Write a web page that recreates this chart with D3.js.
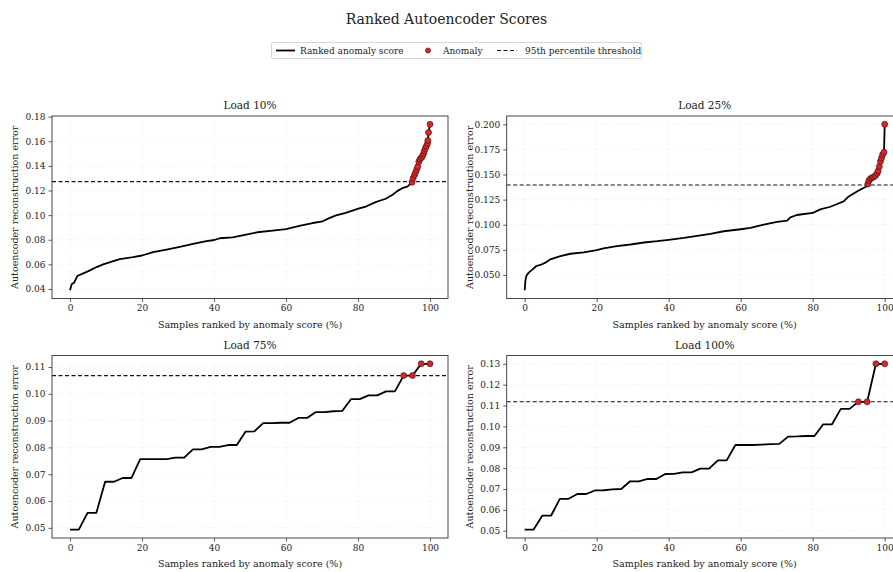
<!DOCTYPE html>
<html>
<head>
<meta charset="utf-8">
<script src="https://cdn.jsdelivr.net/npm/d3@7"></script>
<style>
  body { margin: 0; background: #fff; }
  text { font-family: "DejaVu Serif", serif; fill: #222; }
</style>
</head>
<body>
<div id="chart"></div>
<script>
// Panel titles and x ticks
const panelTitles = ["Load 10%", "Load 25%", "Load 75%", "Load 100%"];
const xTicks = [0, 20, 40, 60, 80, 100];

// Load 10% - dense ranked curve (rank %, error)
const load10Pct = [0, 0.46, 1.11, 2.03, 3.69, 5.54, 7.39, 9.23, 12.0, 13.85, 17.54, 20.0, 23.1, 26.8, 30.5,
  34.2, 37.9, 40.1, 41.6, 45.2, 48.9, 52.6, 56.3, 60.0, 63.7, 67.4, 70.2, 72.0, 73.9, 76.6, 80.1, 82.2,
  84.9, 87.7, 89.6, 91.0, 92.3, 93.7, 94.6];
const load10Err = [0.039, 0.0438, 0.045, 0.0505, 0.0527, 0.0551, 0.0578, 0.060, 0.0626, 0.0642, 0.0658,
  0.0672, 0.070, 0.072, 0.0742, 0.0766, 0.0788, 0.0798, 0.0812, 0.082, 0.0842, 0.0863, 0.0874, 0.0887,
  0.0912, 0.0936, 0.095, 0.0976, 0.0998, 0.1019, 0.1052, 0.107, 0.1106, 0.1133, 0.1165, 0.1197, 0.1219,
  0.1232, 0.1255];
const load10AnomPct = [95.0, 95.3, 95.7, 96.0, 96.3, 96.6, 96.9, 97.2, 97.6, 97.9, 98.2, 98.4, 98.7, 99.0,
  99.3, 99.4, 99.6, 100];
const load10AnomErr = [0.1267, 0.130, 0.1327, 0.1348, 0.137, 0.1394, 0.1434, 0.1453, 0.1466, 0.148,
  0.1498, 0.152, 0.1542, 0.156, 0.1582, 0.1606, 0.1671, 0.1738];
const load10Threshold = 0.1272;

// Load 25%
const load25Pct = [0, 0.19, 0.46, 1.11, 2.04, 3.24, 4.35, 5.74, 7.13, 9.91, 12.7, 16.4, 20.0, 21.9, 25.6,
  29.4, 33.1, 36.8, 40.0, 44.2, 47.9, 51.6, 55.3, 60.0, 62.7, 66.4, 70.1, 72.9, 73.8, 75.6, 80.0, 82.1,
  84.9, 86.8, 88.6, 90.0, 92.3, 93.7, 94.9];
const load25Err = [0.0348, 0.0441, 0.049, 0.0523, 0.055, 0.0589, 0.0599, 0.0622, 0.0655, 0.0688, 0.0711,
  0.0724, 0.0747, 0.0764, 0.0787, 0.0803, 0.0823, 0.0836, 0.085, 0.0869, 0.0889, 0.0909, 0.0935, 0.0955,
  0.0968, 0.1001, 0.1028, 0.1041, 0.1074, 0.1097, 0.1117, 0.1153, 0.1179, 0.1206, 0.1232, 0.1282,
  0.1331, 0.1358, 0.1381];
const load25AnomPct = [95.3, 95.6, 96.0, 96.5, 96.9, 97.4, 97.9, 98.2, 98.5, 98.8, 99.1, 99.4, 99.8, 100];
const load25AnomErr = [0.1405, 0.1438, 0.1458, 0.1468, 0.1475, 0.1488, 0.1511, 0.1537, 0.158, 0.163,
  0.1663, 0.1696, 0.1722, 0.200];
const load25Threshold = 0.1395;

// Load 75% - 42 ranked samples, evenly spaced ranks
const load75Err = [0.0493, 0.0493, 0.0556, 0.0556, 0.0672, 0.0672, 0.0686, 0.0686, 0.0756, 0.0756,
  0.0756, 0.0756, 0.0762, 0.0762, 0.0793, 0.0793, 0.0802, 0.0802, 0.0809, 0.0809, 0.0859, 0.0860,
  0.0891, 0.0891, 0.0892, 0.0892, 0.0910, 0.0910, 0.0932, 0.0932, 0.0935, 0.0936, 0.0980, 0.0980,
  0.0994, 0.0994, 0.1009, 0.1009, 0.1068, 0.1068, 0.1112, 0.1112];
const load75Threshold = 0.1068;

// Load 100% - 42 ranked samples
const load100Err = [0.0505, 0.0505, 0.0572, 0.0572, 0.0653, 0.0653, 0.0676, 0.0676, 0.0693, 0.0694,
  0.0698, 0.0700, 0.0737, 0.0737, 0.0748, 0.0748, 0.0772, 0.0773, 0.0780, 0.0780, 0.0798, 0.0798,
  0.0837, 0.0837, 0.0911, 0.0911, 0.0911, 0.0913, 0.0915, 0.0916, 0.0951, 0.0952, 0.0954, 0.0954,
  0.1010, 0.1010, 0.1084, 0.1084, 0.1118, 0.1118, 0.1300, 0.1300];
const load100Threshold = 0.1118;

// y tick labels per panel
const yTicks10 = [0.04, 0.06, 0.08, 0.10, 0.12, 0.14, 0.16, 0.18];
const yTicks25 = [0.050, 0.075, 0.100, 0.125, 0.150, 0.175, 0.200];
const yTicks75 = [0.05, 0.06, 0.07, 0.08, 0.09, 0.10, 0.11];
const yTicks100 = [0.05, 0.06, 0.07, 0.08, 0.09, 0.10, 0.11, 0.12, 0.13];

const width = 893;
const height = 572;
const plotW = 396;
const plotH = 182.5;
const red = "#d62728";

const svg = d3
  .select("#chart")
  .append("svg")
  .attr("width", width)
  .attr("height", height)
  .style("background", "#fff");

// turn pct/err arrays into point objects
function toPoints(pcts, errs) {
  return pcts.map((p, i) => ({ x: p, y: errs[i] }));
}
function evenPoints(errs) {
  return errs.map((e, i) => ({ x: (i / (errs.length - 1)) * 100, y: e }));
}

const panels = [
  {
    title: panelTitles[0], left: 52, top: 116,
    line: toPoints(load10Pct, load10Err).concat(toPoints(load10AnomPct, load10AnomErr)),
    anomalies: toPoints(load10AnomPct, load10AnomErr),
    threshold: load10Threshold, yTicks: yTicks10, fmt: ".2f",
  },
  {
    title: panelTitles[1], left: 506.7, top: 116,
    line: toPoints(load25Pct, load25Err).concat(toPoints(load25AnomPct, load25AnomErr)),
    anomalies: toPoints(load25AnomPct, load25AnomErr),
    threshold: load25Threshold, yTicks: yTicks25, fmt: ".3f",
  },
  {
    title: panelTitles[2], left: 52, top: 355.5,
    line: evenPoints(load75Err),
    anomalies: evenPoints(load75Err).filter((d) => d.y >= load75Threshold),
    threshold: load75Threshold, yTicks: yTicks75, fmt: ".2f",
  },
  {
    title: panelTitles[3], left: 506.7, top: 355.5,
    line: evenPoints(load100Err),
    anomalies: evenPoints(load100Err).filter((d) => d.y >= load100Threshold),
    threshold: load100Threshold, yTicks: yTicks100, fmt: ".2f",
  },
];

function drawPanel(p) {
  const g = svg.append("g");
  const x = d3.scaleLinear().domain([-5, 105]).range([p.left, p.left + plotW]);
  const lo = d3.min(p.line, (d) => d.y);
  const hi = d3.max(p.line, (d) => d.y);
  const pad = (hi - lo) * 0.05;
  const y = d3.scaleLinear().domain([lo - pad, hi + pad]).range([p.top + plotH, p.top]);

  // very faint grid
  g.selectAll(".gx")
    .data(xTicks)
    .join("line")
    .attr("x1", (d) => x(d))
    .attr("x2", (d) => x(d))
    .attr("y1", p.top)
    .attr("y2", p.top + plotH)
    .attr("stroke", "#ececec")
    .attr("stroke-width", 0.6)
    .attr("stroke-dasharray", "2.5,2");
  g.selectAll(".gy")
    .data(p.yTicks)
    .join("line")
    .attr("x1", p.left)
    .attr("x2", p.left + plotW)
    .attr("y1", (d) => y(d))
    .attr("y2", (d) => y(d))
    .attr("stroke", "#ececec")
    .attr("stroke-width", 0.6)
    .attr("stroke-dasharray", "2.5,2");

  // threshold
  g.append("line")
    .attr("x1", p.left)
    .attr("x2", p.left + plotW)
    .attr("y1", y(p.threshold))
    .attr("y2", y(p.threshold))
    .attr("stroke", "#111")
    .attr("stroke-width", 1.1)
    .attr("stroke-dasharray", "4,2.5");

  // ranked line
  const line = d3.line().x((d) => x(d.x)).y((d) => y(d.y));
  g.append("path")
    .datum(p.line)
    .attr("d", line)
    .attr("fill", "none")
    .attr("stroke", "#000")
    .attr("stroke-width", 1.8)
    .attr("stroke-linejoin", "round");

  // anomalies
  g.selectAll(".anom")
    .data(p.anomalies)
    .join("circle")
    .attr("cx", (d) => x(d.x))
    .attr("cy", (d) => y(d.y))
    .attr("r", 3)
    .attr("fill", red)
    .attr("stroke", "#3a0a0a")
    .attr("stroke-width", 0.6);

  // axes
  const xAxis = g
    .append("g")
    .attr("transform", `translate(0,${p.top + plotH})`)
    .call(d3.axisBottom(x).tickValues(xTicks).tickSize(3.5).tickPadding(3).tickFormat(d3.format("d")));
  const yAxis = g
    .append("g")
    .attr("transform", `translate(${p.left},0)`)
    .call(d3.axisLeft(y).tickValues(p.yTicks).tickSize(3.5).tickPadding(3).tickFormat(d3.format(p.fmt)));
  [xAxis, yAxis].forEach((a) => {
    a.select(".domain").remove();
    a.selectAll("line").attr("stroke", "#333").attr("stroke-width", 0.8);
    a.selectAll("text")
      .attr("font-family", '"DejaVu Serif", serif')
      .attr("font-size", 9)
      .attr("fill", "#333");
  });

  // frame
  g.append("rect")
    .attr("x", p.left)
    .attr("y", p.top)
    .attr("width", plotW)
    .attr("height", plotH)
    .attr("fill", "none")
    .attr("stroke", "#333")
    .attr("stroke-width", 0.9);

  // labels
  g.append("text")
    .attr("x", p.left + plotW / 2)
    .attr("y", p.top - 7)
    .attr("text-anchor", "middle")
    .attr("font-size", 10.5)
    .text(p.title);
  g.append("text")
    .attr("x", p.left + plotW / 2)
    .attr("y", p.top + plotH + 29)
    .attr("text-anchor", "middle")
    .attr("font-size", 9.5)
    .text("Samples ranked by anomaly score (%)");
  g.append("text")
    .attr("transform", `translate(${p.left - 34},${p.top + plotH / 2}) rotate(-90)`)
    .attr("text-anchor", "middle")
    .attr("font-size", 9.5)
    .text("Autoencoder reconstruction error");
}

panels.forEach(drawPanel);

// suptitle
svg.append("text")
  .attr("x", width / 2)
  .attr("y", 24)
  .attr("text-anchor", "middle")
  .attr("font-size", 14)
  .text("Ranked Autoencoder Scores");

// legend
const legend = svg.append("g");
legend.append("rect")
  .attr("x", 271.5).attr("y", 42.5)
  .attr("width", 370).attr("height", 16)
  .attr("fill", "#fff").attr("stroke", "#ccc").attr("stroke-width", 0.8).attr("rx", 1.5);
legend.append("line")
  .attr("x1", 276).attr("x2", 295).attr("y1", 50.5).attr("y2", 50.5)
  .attr("stroke", "#000").attr("stroke-width", 1.8);
legend.append("text").attr("x", 300).attr("y", 53.8).attr("font-size", 9).text("Ranked anomaly score");
legend.append("circle")
  .attr("cx", 428).attr("cy", 50.5).attr("r", 2.6)
  .attr("fill", red).attr("stroke", "#3a0a0a").attr("stroke-width", 0.5);
legend.append("text").attr("x", 443).attr("y", 53.8).attr("font-size", 9).text("Anomaly");
legend.append("line")
  .attr("x1", 497).attr("x2", 517).attr("y1", 50.5).attr("y2", 50.5)
  .attr("stroke", "#111").attr("stroke-width", 1.1).attr("stroke-dasharray", "4,2.5");
legend.append("text").attr("x", 525).attr("y", 53.8).attr("font-size", 9).text("95th percentile threshold");
</script>
</body>
</html>
